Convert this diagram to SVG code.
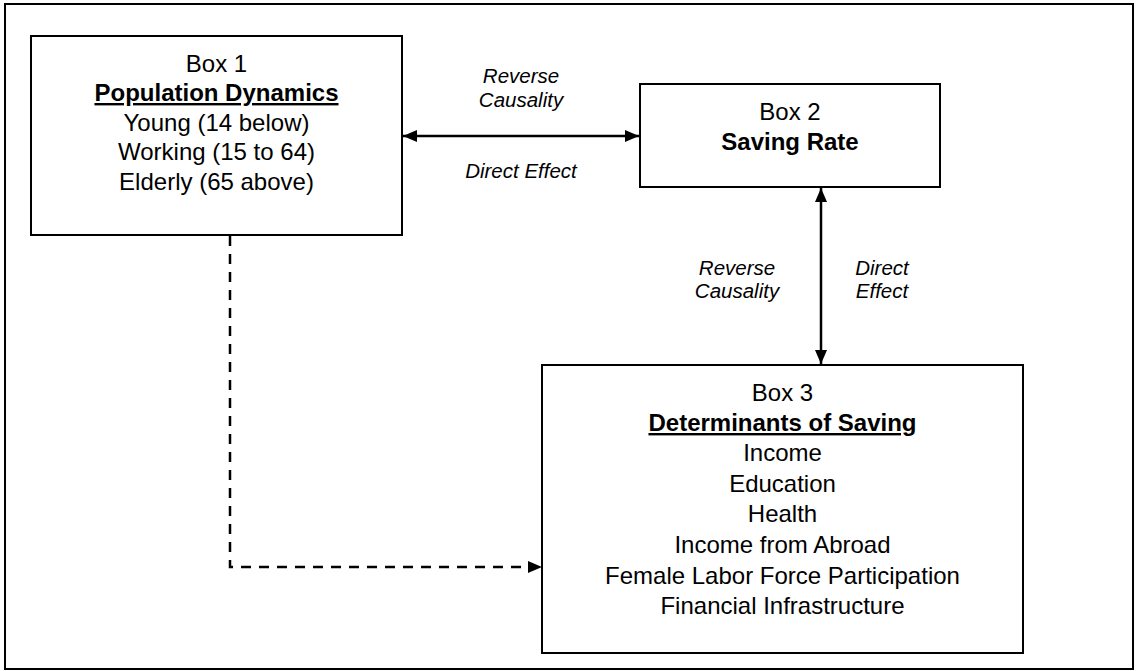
<svg xmlns="http://www.w3.org/2000/svg" width="1138" height="671" viewBox="0 0 1138 671">
<style>
.box{fill:#fff;stroke:#000;stroke-width:2}
.t{font-family:"Liberation Sans",Arial,sans-serif;font-size:24px;fill:#000;text-anchor:middle}
.b{font-weight:bold}
.lbl{font-family:"Liberation Sans",Arial,sans-serif;font-size:20.5px;font-style:italic;fill:#000;text-anchor:middle}
.con{stroke:#000;stroke-width:2.5;fill:none}
.dash{stroke:#000;stroke-width:2.5;fill:none;stroke-dasharray:10 8}
</style>
<defs>
<marker id="ah" viewBox="0 0 14 12" refX="14" refY="6" markerWidth="14" markerHeight="12" markerUnits="userSpaceOnUse" orient="auto-start-reverse">
<path d="M0,0 L14,6 L0,12 z" fill="#000"/>
</marker>
</defs>
<rect x="5" y="4" width="1128" height="665" fill="#fff" stroke="#000" stroke-width="2"/>
<g id="connectors">
<line class="con" x1="403" y1="136" x2="639" y2="136" marker-start="url(#ah)" marker-end="url(#ah)"/>
<line class="con" x1="821" y1="188" x2="821" y2="364" marker-start="url(#ah)" marker-end="url(#ah)"/>
<path class="dash" d="M230,236 V567 H528"/>
<path d="M528,561 L542,567 L528,573 z" fill="#000"/>
</g>
<g id="labels">
<text class="lbl" x="521" y="83">Reverse</text>
<text class="lbl" x="521" y="107">Causality</text>
<text class="lbl" x="521" y="178">Direct Effect</text>
<text class="lbl" x="737" y="275">Reverse</text>
<text class="lbl" x="737" y="298">Causality</text>
<text class="lbl" x="882" y="275">Direct</text>
<text class="lbl" x="882" y="298">Effect</text>
</g>
<g id="box1">
<rect class="box" x="31" y="36" width="371" height="199"/>
<text class="t" x="216.5" y="72">Box 1</text>
<text class="t b" x="216.5" y="101" text-decoration="underline">Population Dynamics</text>
<text class="t" x="216.5" y="131">Young (14 below)</text>
<text class="t" x="216.5" y="160">Working (15 to 64)</text>
<text class="t" x="216.5" y="190">Elderly (65 above)</text>
</g>
<g id="box2">
<rect class="box" x="640" y="84" width="300" height="103"/>
<text class="t" x="790" y="120">Box 2</text>
<text class="t b" x="790" y="150">Saving Rate</text>
</g>
<g id="box3">
<rect class="box" x="542" y="365" width="481" height="288"/>
<text class="t" x="782.5" y="401">Box 3</text>
<text class="t b" x="782.5" y="431" text-decoration="underline">Determinants of Saving</text>
<text class="t" x="782.5" y="461">Income</text>
<text class="t" x="782.5" y="492">Education</text>
<text class="t" x="782.5" y="522">Health</text>
<text class="t" x="782.5" y="553">Income from Abroad</text>
<text class="t" x="782.5" y="584">Female Labor Force Participation</text>
<text class="t" x="782.5" y="614">Financial Infrastructure</text>
</g>
</svg>
